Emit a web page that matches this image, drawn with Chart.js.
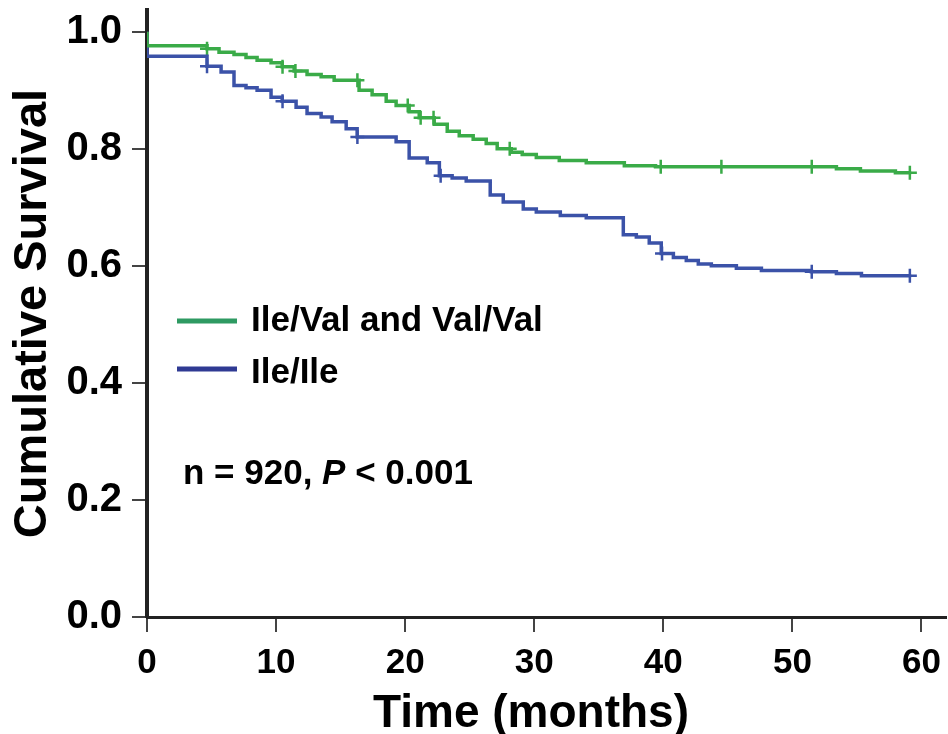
<!DOCTYPE html>
<html>
<head>
<meta charset="utf-8">
<title>Cumulative Survival</title>
<script src="https://cdn.jsdelivr.net/npm/chart.js@4.4.1/dist/chart.umd.min.js"></script>
<style>
  html, body { margin: 0; padding: 0; background: #fff; }
  canvas { display: block; }
</style>
</head>
<body>
<canvas id="kmChart" width="948" height="734"></canvas>
<script>
// step points of the two Kaplan-Meier curves (time in months, survival)
const greenTimes = [0, 0, 4.65, 5.58, 6.74, 7.67, 8.53, 9.61, 10.47, 11.40, 12.40, 13.49, 14.50, 16.43, 17.44, 18.53, 19.30, 20.31, 21.09, 22.25, 23.26, 24.19, 25.27, 26.28, 27.13, 28.22, 29.07, 30.16, 31.94, 34.03, 36.98, 39.40, 53.41, 55.27, 57.98, 59.2];
const greenSurv = [1.0, 0.976, 0.971, 0.965, 0.961, 0.956, 0.951, 0.947, 0.940, 0.933, 0.927, 0.923, 0.917, 0.900, 0.892, 0.881, 0.874, 0.863, 0.853, 0.842, 0.830, 0.822, 0.816, 0.809, 0.800, 0.794, 0.790, 0.785, 0.780, 0.776, 0.771, 0.769, 0.766, 0.762, 0.759, 0.759];

const blueTimes = [0, 0, 4.65, 5.74, 6.74, 7.67, 8.53, 9.61, 10.47, 11.55, 12.40, 13.49, 14.34, 15.43, 16.28, 19.30, 20.31, 21.71, 22.65, 23.64, 24.73, 26.59, 27.60, 29.15, 30.16, 32.02, 34.03, 36.90, 37.91, 38.91, 39.84, 40.78, 41.78, 42.71, 43.72, 45.66, 47.60, 51.47, 53.41, 55.35, 59.2];
const blueSurv = [1.0, 0.958, 0.941, 0.931, 0.908, 0.904, 0.900, 0.888, 0.881, 0.871, 0.860, 0.854, 0.846, 0.834, 0.820, 0.812, 0.784, 0.776, 0.754, 0.750, 0.745, 0.721, 0.709, 0.697, 0.692, 0.686, 0.682, 0.653, 0.649, 0.639, 0.621, 0.614, 0.609, 0.603, 0.600, 0.596, 0.592, 0.590, 0.587, 0.583, 0.583];

// censored observations (time in months)
const greenCensor = [4.65, 10.5, 11.5, 16.3, 20.2, 21.2, 22.2, 28.1, 39.8, 44.5, 51.5, 59.1];
const blueCensor = [4.65, 10.5, 16.3, 22.75, 39.9, 51.5, 59.1];

const xTicks = [0, 10, 20, 30, 40, 50, 60];
const yTicks = [0, 0.2, 0.4, 0.6, 0.8, 1.0];

const seriesNames = ['Ile/Val and Val/Val', 'Ile/Ile'];
const noteText = ['n = 920, ', 'P', ' < 0.001'];
const xTitle = 'Time (months)';

const GREEN = '#3aab48';
const BLUE = '#3b52a8';
const FONT = '"Liberation Sans", Arial, sans-serif';

function toPoints(times, surv) {
    return times.map((t, i) => ({ x: t, y: surv[i] }));
}

// survival value of a curve at time t (last step at or before t)
function survAt(times, surv, t) {
    let v = surv[0];
    for (let i = 0; i < times.length; i++) {
        if (times[i] <= t) v = surv[i];
    }
    return v;
}

function censorPoints(cens, times, surv) {
    return cens.map(t => ({ x: t, y: survAt(times, surv, t) }));
}

// legend, note and x axis title
const legendPlugin = {
    id: 'kmLegend',
    afterDraw(chart) {
        const ctx = chart.ctx;
        ctx.save();
        ctx.lineWidth = 5;
        ctx.strokeStyle = '#2e9a62';
        ctx.beginPath();
        ctx.moveTo(177, 321);
        ctx.lineTo(237, 321);
        ctx.stroke();
        ctx.strokeStyle = '#2f3a93';
        ctx.beginPath();
        ctx.moveTo(177, 369);
        ctx.lineTo(237, 369);
        ctx.stroke();

        ctx.fillStyle = '#000';
        ctx.textBaseline = 'alphabetic';
        ctx.textAlign = 'left';
        ctx.font = 'bold 35px ' + FONT;
        ctx.fillText(seriesNames[0], 251, 331);
        ctx.fillText(seriesNames[1], 251, 383);

        // n = 920, P < 0.001 (P in italics)
        let x = 183;
        const y = 484;
        ctx.font = 'bold 35px ' + FONT;
        ctx.fillText(noteText[0], x, y);
        x += ctx.measureText(noteText[0]).width;
        ctx.font = 'italic bold 35px ' + FONT;
        ctx.fillText(noteText[1], x, y);
        x += ctx.measureText(noteText[1]).width;
        ctx.font = 'bold 35px ' + FONT;
        ctx.fillText(noteText[2], x, y);

        ctx.textAlign = 'center';
        ctx.font = 'bold 46px ' + FONT;
        ctx.fillText(xTitle, 531, 727);
        ctx.restore();
    }
};

const ctx = document.getElementById('kmChart').getContext('2d');
new Chart(ctx, {
    type: 'scatter',
    data: {
        datasets: [
            {
                label: seriesNames[0],
                data: toPoints(greenTimes, greenSurv),
                showLine: true,
                stepped: 'before',
                borderColor: GREEN,
                borderWidth: 3.5,
                pointRadius: 0
            },
            {
                label: seriesNames[1],
                data: toPoints(blueTimes, blueSurv),
                showLine: true,
                stepped: 'before',
                borderColor: BLUE,
                borderWidth: 3.5,
                pointRadius: 0
            },
            {
                label: 'green censored',
                data: censorPoints(greenCensor, greenTimes, greenSurv),
                showLine: false,
                pointStyle: 'cross',
                pointRadius: 7,
                pointBorderWidth: 2.5,
                borderColor: GREEN
            },
            {
                label: 'blue censored',
                data: censorPoints(blueCensor, blueTimes, blueSurv),
                showLine: false,
                pointStyle: 'cross',
                pointRadius: 7,
                pointBorderWidth: 2.5,
                borderColor: BLUE
            }
        ]
    },
    options: {
        responsive: false,
        animation: false,
        layout: { autoPadding: false, padding: { top: 10, right: 2, left: 0, bottom: 0 } },
        plugins: {
            legend: { display: false },
            tooltip: { enabled: false }
        },
        scales: {
            x: {
                type: 'linear',
                min: 0,
                max: 61.9,
                afterBuildTicks: axis => { axis.ticks = xTicks.map(v => ({ value: v })); },
                afterFit: scale => {
                    scale.height = 117;
                    scale.paddingLeft = 0;
                    scale.paddingRight = 0;
                },
                border: { display: true, color: '#222', width: 3 },
                grid: { drawOnChartArea: false, drawTicks: true, tickLength: 15, color: '#444', lineWidth: 2 },
                ticks: {
                    color: '#000',
                    padding: 10,
                    maxRotation: 0,
                    font: { family: FONT, size: 35, weight: 'bold' },
                    callback: v => v
                },
                title: { display: false }
            },
            y: {
                type: 'linear',
                min: 0,
                max: 1.037,
                afterBuildTicks: axis => { axis.ticks = yTicks.map(v => ({ value: v })); },
                afterFit: scale => {
                    scale.width = 147;
                    scale.paddingTop = 0;
                    scale.paddingBottom = 0;
                },
                border: { display: true, color: '#222', width: 4 },
                grid: { drawOnChartArea: false, drawTicks: true, tickLength: 15, color: '#444', lineWidth: 2 },
                ticks: {
                    color: '#000',
                    padding: 10,
                    font: { family: FONT, size: 40, weight: 'bold' },
                    callback: v => Number(v).toFixed(1)
                },
                title: {
                    display: true,
                    text: 'Cumulative Survival',
                    color: '#000',
                    font: { family: FONT, size: 47, weight: 'bold', lineHeight: 1 },
                    padding: { top: 10, bottom: 0 }
                }
            }
        }
    },
    plugins: [legendPlugin]
});
</script>
</body>
</html>
